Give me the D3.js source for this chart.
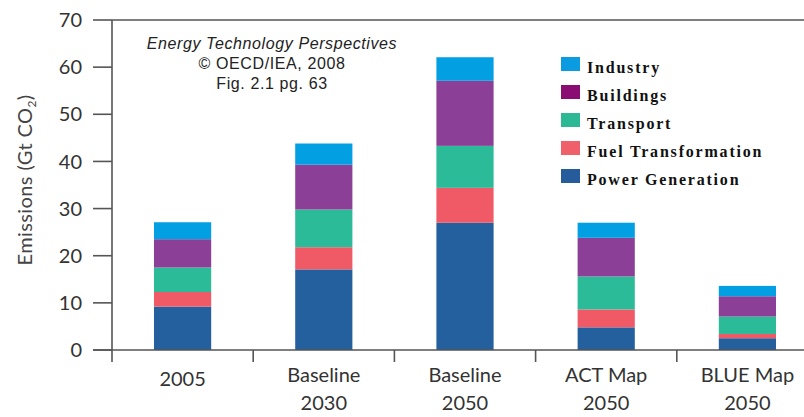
<!DOCTYPE html>
<html>
<head>
<meta charset="utf-8">
<script src="https://cdn.jsdelivr.net/npm/d3@7"></script>
<style>
  html, body { margin: 0; padding: 0; background: #fff; }
  svg { display: block; }
</style>
</head>
<body>
<svg id="chart" width="804" height="417"></svg>
<script>
// ---- data ----
const categories = [["2005"], ["Baseline", "2030"], ["Baseline", "2050"], ["ACT Map", "2050"], ["BLUE Map", "2050"]];
const categoryKeys = ["2005", "Baseline 2030", "Baseline 2050", "ACT Map 2050", "BLUE Map 2050"];
const seriesNames = ["Power Generation", "Fuel Transformation", "Transport", "Buildings", "Industry"];
const powerGeneration    = [9.2, 17.1, 27.0, 4.8, 2.5];
const fuelTransformation = [3.1, 4.7, 7.4, 3.8, 0.9];
const transport          = [5.2, 8.0, 8.9, 7.0, 3.7];
const buildings          = [6.0, 9.5, 13.8, 8.2, 4.3];
const industry           = [3.6, 4.5, 5.0, 3.2, 2.2];
const yTicks = [0, 10, 20, 30, 40, 50, 60, 70];
const legendOrder = ["Industry", "Buildings", "Transport", "Fuel Transformation", "Power Generation"];
const annotation = ["Energy Technology Perspectives", "\u00A9 OECD/IEA, 2008", "Fig. 2.1  pg. 63"];

// ---- styles ----
const barColors = {
  "Power Generation": "#24609e",
  "Fuel Transformation": "#f05a66",
  "Transport": "#2bbb98",
  "Buildings": "#8b3f96",
  "Industry": "#02a0e2"
};
const legendColors = {
  "Power Generation": "#265c9c",
  "Fuel Transformation": "#f0606a",
  "Transport": "#2bb894",
  "Buildings": "#8a0d74",
  "Industry": "#0a9be0"
};
const axisColor = "#555";

const seriesValues = [powerGeneration, fuelTransformation, transport, buildings, industry];
const table = categoryKeys.map((k, i) => {
  const row = { key: k };
  seriesNames.forEach((s, j) => row[s] = seriesValues[j][i]);
  return row;
});

const svg = d3.select("#chart");
const x = d3.scaleBand().domain(categoryKeys).range([112, 818]).padding(0);
const y = d3.scaleLinear().domain([0, 70]).range([350, 20]);
const barW = x.bandwidth() * 0.405;

const stack = d3.stack().keys(seriesNames)(table);

// bars
svg.append("g").selectAll("g").data(stack).join("g")
  .attr("fill", d => barColors[d.key])
  .selectAll("rect").data(d => d).join("rect")
  .attr("x", d => x(d.data.key) + x.bandwidth() / 2 - barW / 2)
  .attr("width", barW)
  .attr("y", d => y(d[1]))
  .attr("height", d => y(d[0]) - y(d[1]));

// axes frame
const g = svg.append("g").attr("stroke", axisColor).attr("stroke-width", 1.6).attr("fill", "none");
g.append("line").attr("x1", 112).attr("x2", 804).attr("y1", y(70)).attr("y2", y(70));
g.append("line").attr("x1", 93).attr("x2", 804).attr("y1", y(0)).attr("y2", y(0));
g.append("line").attr("x1", 112).attr("x2", 112).attr("y1", y(70)).attr("y2", y(0) + 12);
// category separators
categoryKeys.slice(1).forEach(k => {
  g.append("line").attr("x1", x(k)).attr("x2", x(k)).attr("y1", y(0)).attr("y2", y(0) + 12);
});
// y ticks
yTicks.forEach(t => {
  g.append("line").attr("x1", 93).attr("x2", 112).attr("y1", y(t)).attr("y2", y(t));
});

// y tick labels
svg.append("g").selectAll("text").data(yTicks).join("text")
  .attr("x", 82).attr("y", d => y(d)).attr("dy", "0.36em")
  .attr("text-anchor", "end")
  .attr("font-family", "Lato, 'Liberation Sans', sans-serif")
  .attr("font-size", 20).attr("fill", "#333")
  .text(d => d);

// y axis label
const yl = svg.append("text")
  .attr("transform", "translate(32,180) rotate(-90)")
  .attr("text-anchor", "middle")
  .attr("font-family", "Lato, 'Liberation Sans', sans-serif")
  .attr("font-size", 20).attr("letter-spacing", 0.4).attr("fill", "#444");
yl.append("tspan").text("Emissions (Gt CO");
yl.append("tspan").attr("font-size", 12).attr("dy", 4).text("2");
yl.append("tspan").attr("dy", -4).text(")");

// x labels
categories.forEach((lines, i) => {
  const cx = x(categoryKeys[i]) + x.bandwidth() / 2;
  const t = svg.append("text")
    .attr("text-anchor", "middle")
    .attr("font-family", "Lato, 'Liberation Sans', sans-serif")
    .attr("font-size", 20).attr("fill", "#333");
  if (lines.length === 1) {
    t.append("tspan").attr("x", cx).attr("y", 386).text(lines[0]);
  } else {
    t.append("tspan").attr("x", cx).attr("y", 382).text(lines[0]);
    t.append("tspan").attr("x", cx).attr("y", 410).text(lines[1]);
  }
});

// annotation
annotation.forEach((s, i) => {
  svg.append("text")
    .attr("x", 272).attr("y", 49 + i * 20)
    .attr("text-anchor", "middle")
    .attr("font-family", "'Liberation Sans', Arial, sans-serif")
    .attr("font-size", 16)
    .attr("letter-spacing", 0.6)
    .attr("font-style", i === 0 ? "italic" : "normal")
    .attr("fill", "#222")
    .text(s);
});

// legend
const leg = svg.append("g");
legendOrder.forEach((name, i) => {
  const yy = 57 + i * 28;
  leg.append("rect").attr("x", 561).attr("y", yy).attr("width", 19).attr("height", 14)
    .attr("fill", legendColors[name]);
  leg.append("text").attr("x", 587).attr("y", yy + 16)
    .attr("font-family", "'Liberation Serif', 'Times New Roman', serif")
    .attr("font-weight", "bold").attr("font-size", 16)
    .attr("letter-spacing", 1.8)
    .attr("fill", "#111")
    .text(name);
});
</script>
</body>
</html>
